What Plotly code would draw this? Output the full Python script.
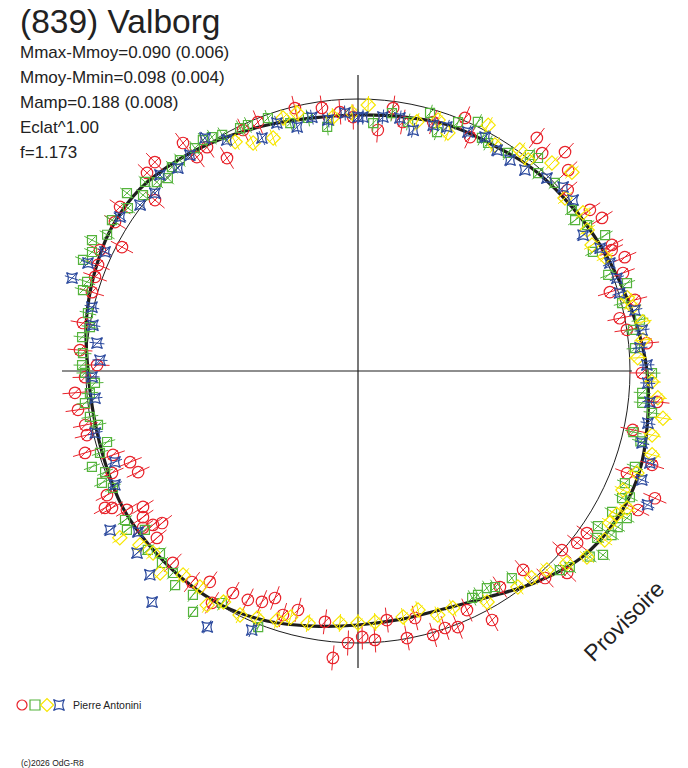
import numpy as np
import plotly.graph_objects as go

# rotation phase (deg) and relative brightness radius of each observation
red_phase = [25.5, 23.1, 20.3, 17.4, 14.4, 11.4, 8.7, 5.5, -0.4, -5.9, -12.1, -17.7, -20.8, -23.2,
             -26.4, -35.3, -38.1, -41.3, -44, -47.9, -50.3, -56.7, -61.7, -65.5, -68.7, -71.3, -74.1,
             -77, -79.6, -83.4, -86.4, -89.1, 267.9, 265, 262.5, 255.9, 252.9, 249.9, 247.4, 244.3,
             240.6, 237.8, 234.9, 231.8, 226, 219.7, 216.1, 217.8, 216.9, 214.2, 211, 212.3, 209.1,
             208.4, 206.3, 202.5, 204.7, 201.8, 198.9, 196.7, 193.3, 191.2, 187.9, 184.4, 181.3,
             178.7, 175.7, 170.1, 163.5, 160.3, 157.8, 154.9, 152.3, 148.5, 145.4, 139.9, 136.8,
             134.2, 127.5, 127, 124, 121.6, 115.5, 111.9, 103.5, 97.8, 94, 91.1, 85.3, 82.4, 79.8,
             73.2, 67.1, 64.4, 52.5, 49.8, 46.6, 43.7, 40.8, 34.8, 32.1, 26.4]
red_r = [281, 290, 282.5, 264, 286, 267, 272, 290, 284, 300.6, 281, 308.7, 287.7, 323,
         312.6, 280.5, 278.5, 271.4, 290.7, 279, 258.5, 258.5, 282.8, 262.7, 274.8, 271.3, 274.4,
         253.5, 271.5, 250.7, 269.5, 266, 272.2, 288, 253, 246.4, 255.3, 241.7, 250, 254,
         254.8, 274, 257.7, 268.5, 266.6, 261.3, 266, 248, 256.4, 260, 269.6, 254.4, 281.6,
         287.7, 280, 266.3, 242, 245.5, 259, 285, 278.5, 278, 282.7, 283.9, 273,
         261, 278.8, 279.2, 277.5, 279.3, 280.8, 285, 266.6, 285, 289, 265.4, 289.4,
         291.4, 287.4, 267.8, 270, 250, 267, 268.3, 270.4, 265.5, 259.6, 254, 241.8, 265.3, 253,
         260, 274.7, 259.4, 293.8, 285.3, 301.3, 290.7, 277, 282.4, 288, 283.5]

green_phase = [26.9, 21, 18.1, 14.4, 10.3, 8.5, 4.7, -0.4, -4.4, -6.4, -8.1, -12.5, -14, -19.1,
               -22.8, -25.7, -24.9, -28.7, -29, -31, -32.9, -32.9, -34.9, -38.7, -36.9, -42.8,
               -44.6, -53.4, -57.6, -59.3, -61.8, -63.3, 248.7, 239.6, 235.6, 233.6, 229.5, 227.5,
               224.4, 222.6, 220.4, 214.5, 216.7, 212.6, 205.5, 203.6, 201.8, 199.8, 197.6, 195.8,
               191.7, 189.7, 186.7, 184.7, 182.6, 180.4, 178.8, 176.3, 173, 170.7, 167.9, 163.6,
               161.8, 158, 155.9, 153.8, 151.5, 148.5, 144.7, 142.4, 140.7, 138.4, 136.8, 134.6,
               132.4, 130.2, 126.2, 123.9, 122, 119.9, 115.9, 114.1, 109.6, 105.3, 101.2, 97.2,
               86.5, 82.5, 78.6, 74.4, 71.7, 68.1, 64.3, 62, 60.3, 55.5, 51.5, 49.8, 47.7, 43.7,
               37, 34.8, 32.5, 28.8]
green_r = [263.4, 268, 283, 272.6, 286.6, 278, 278, 294, 285, 286, 297, 282, 291, 293,
           289.5, 293, 299.8, 306.5, 290.5, 303, 285.7, 302, 291.6, 297, 306.4, 288.7,
           283.5, 258, 255.8, 252.4, 254, 254, 274.8, 269, 292, 278.2, 281.6, 274,
           274.4, 269, 276, 280.4, 265.8, 276.6, 271.5, 279.4, 272.4, 282.8, 270.7, 260.8,
           265.5, 272, 275, 269, 263.3, 273, 276, 275.6, 278, 271.6, 276.2, 286.7,
           285.2, 296.6, 291.4, 296.5, 285.5, 288.6, 281.9, 291.6, 277.8, 284.8, 276, 270.8,
           276, 276, 276.2, 278.2, 275.8, 272.4, 270, 269.5, 268.5, 257, 257.9, 246,
           248.4, 260.2, 254, 267.9, 251.7, 268.3, 276.4, 264, 262.5, 264.6, 276, 278.9, 267.6, 272.3,
           267.8, 264.4, 271.6, 282]

yellow_phase = [24.8, 15.2, 13.1, 9.8, 6.2, 2.7, -2.1, -5.1, -8.8, -12.3, -15.9, -20.1, -24.2,
                -27, -29, -31.1, -34.4, -39.1, -42.6, -46.5, -50, -53.5, -60.8, -68.2, -71.9,
                -75.9, -79.6, -86.1, -90, 265.9, 258.8, 254.7, 252, 247.8, 244.2, 239.8, 237.2,
                233.8, 229.4, 225.6, 221.6, 218.6, 215, 118.2, 114.7, 110, 106.5, 103.3, 95.6,
                91.3, 87.8, 76.7, 72.3, 69.3, 62.1, 58.8, 53.8, 51.1, 47, 42.9, 39.9, 35.1, 31.6, 28.3]
yellow_r = [272, 279, 282, 289, 286.7, 280, 294, 301, 308.6, 301, 305.8, 297, 290.5,
            302, 296, 294, 299, 295, 283.8, 274.4, 270, 268.8, 264.6, 255.3, 256.8,
            246.4, 250, 251.6, 252, 252.6, 257, 255.4, 261.8, 266.9, 271, 267.4, 278.5,
            267.6, 268.8, 282.8, 274, 279, 290.8, 260, 251, 248, 263.9, 265, 255.2,
            258, 266.2, 256, 263.4, 254.5, 278.2, 264.3, 274, 271, 284.4, 292, 269.8, 275, 269, 265.8]

blue_phase = [23.2, 19.7, 16.6, 12.4, 8.2, 4.7, 1.2, -2.4, -6.1, -10.2, -14.2, -17.5, -21, -24.8,
              247.7, 239.5, 228.3, 224.4, 219.5, 216.2, 212.7, 205.1, 200.5, 193.3, 185.9, 181.3,
              177.6, 173.9, 170.2, 166.5, 162, 158.2, 154.8, 147.1, 142.7, 138.8, 135.3, 131.6,
              127.9, 123.3, 119.6, 112.4, 108.1, 104, 100.3, 96.8, 92.9, 90, 88.9, 84.4, 80.6,
              77.1, 73, 70, 65.3, 61.5, 57.8, 54.2, 50.3, 45.6, 41.9, 38.5, 31.1, 26.9]
blue_r = [274, 275, 273, 283.6, 287, 283, 289, 290, 293.6, 294.6, 293, 306, 304, 319,
          280, 297, 309.5, 291.3, 286.3, 272.6, 294.6, 268.4, 259.5, 270, 264.4, 266,
          258.2, 262.5, 269, 273.6, 300.7, 290.8, 279.6, 283.5, 274, 270, 278.6, 271.3,
          273.6, 278.7, 265.6, 252, 260.9, 251.5, 258, 252.8, 258.3, 254, 254, 255.2, 256.5,
          247, 257, 259.7, 263, 266.2, 261, 260, 261.3, 270, 275.5, 274.7, 262.9, 271.5]

# fitted light curve
fit_phase = [0, 10, 20, 30, 40, 50, 60, 70, 80, 90, 100, 110, 120, 130, 140, 150, 160, 170, 180,
             190, 200, 210, 220, 230, 240, 250, 260, 270, 280, 290, 300, 310, 320, 330, 340, 350, 360]
fit_r = [289, 282, 276, 272, 269, 267, 263, 262, 258, 256, 257, 262, 269, 277, 284, 285, 281, 276, 270,
         268, 269, 272, 272, 272, 271, 266, 259, 254, 252, 253, 261, 276, 291, 298, 299, 294, 289]

ref_r = 272  # mean level circle

stats_lines = ["Mmax-Mmoy=0.090 (0.006)", "Mmoy-Mmin=0.098 (0.004)", "Mamp=0.188 (0.008)",
               "Eclat^1.00", "f=1.173"]

series = [
    ("red", red_phase, red_r, "circle-open", 11.5, "#e8232b", 12.5),
    ("green", green_phase, green_r, "square-open", 9, "#55b43c", 8.5),
    ("yellow", yellow_phase, yellow_r, "diamond-open", 11, "#f7e600", 9),
    ("blue", blue_phase, blue_r, "star-square-open", 10, "#2c4a9e", 7.5),
]


def to_xy(ph, r):
    a = np.radians(np.asarray(ph, dtype=float))
    r = np.asarray(r, dtype=float)
    return r * np.cos(a), r * np.sin(a)


fig = go.Figure()

# fitted curve
fx, fy = to_xy(fit_phase, fit_r)
fig.add_trace(go.Scatter(x=fx, y=fy, mode="lines", line=dict(color="#1e1e1e", width=3.2, shape="spline"),
                         hoverinfo="skip"))

for name, ph, r, sym, size, col, err in series:
    x, y = to_xy(ph, r)
    x0, y0 = to_xy(ph, np.asarray(r) - err)
    x1, y1 = to_xy(ph, np.asarray(r) + err)
    ex, ey = [], []
    for i in range(len(x)):
        ex += [x0[i], x1[i], None]
        ey += [y0[i], y1[i], None]
    fig.add_trace(go.Scatter(x=ex, y=ey, mode="lines", line=dict(color=col, width=1), hoverinfo="skip"))
    fig.add_trace(go.Scatter(x=x, y=y, mode="markers", name=name,
                             marker=dict(symbol=sym, size=size, color=col, line=dict(color=col, width=1.2))))
    fig.add_trace(go.Scatter(x=x, y=y, mode="markers", hoverinfo="skip",
                             marker=dict(symbol="line-ne-open", size=size - 2, color=col,
                                         line=dict(color=col, width=1))))

# legend swatches in page pixels
for (name, ph, r, sym, size, col, err), lx in zip(series, [22, 35, 47, 59]):
    fig.add_trace(go.Scatter(x=[lx], y=[705], xaxis="x2", yaxis="y2", mode="markers",
                             marker=dict(symbol=sym, size=10, color=col, line=dict(color=col, width=1.2)),
                             hoverinfo="skip"))

shapes = [
    dict(type="circle", xref="x", yref="y", x0=-ref_r, x1=ref_r, y0=-ref_r, y1=ref_r,
         line=dict(color="#1e1e1e", width=1), layer="below"),
    dict(type="line", xref="x", yref="y", x0=-296, x1=274, y0=0, y1=0,
         line=dict(color="#1e1e1e", width=1.2), layer="below"),
    dict(type="line", xref="x", yref="y", x0=0, x1=0, y0=-297, y1=296,
         line=dict(color="#1e1e1e", width=1.2), layer="below"),
]

W, H = 688, 768
font = "Liberation Sans, Arial, sans-serif"
ann = [dict(text="(839) Valborg", x=18 / W, y=1 - 1 / H, xref="paper", yref="paper",
            xanchor="left", yanchor="top", showarrow=False, font=dict(size=33.5, color="#222", family=font))]
for i, s in enumerate(stats_lines):
    ann.append(dict(text=s, x=18 / W, y=1 - (41 + 25 * i) / H, xref="paper", yref="paper",
                    xanchor="left", yanchor="top", showarrow=False,
                    font=dict(size=17, color="#222", family=font)))
ann.append(dict(text="Provisoire", x=624 / W, y=1 - 621 / H, xref="paper", yref="paper",
                xanchor="center", yanchor="middle",
                textangle=-45, showarrow=False, font=dict(size=23, color="#222", family=font)))
ann.append(dict(text="Pierre Antonini", x=71 / W, y=1 - 705 / H, xref="paper", yref="paper",
                xanchor="left", yanchor="middle", showarrow=False,
                font=dict(size=10.5, color="#222", family=font)))
ann.append(dict(text="(c)2026 OdG-R8", x=19 / W, y=1 - 763 / H, xref="paper", yref="paper",
                xanchor="left", yanchor="middle", showarrow=False,
                font=dict(size=8.5, color="#222", family=font)))

fig.update_layout(
    width=W, height=H, margin=dict(l=0, r=0, t=0, b=0),
    paper_bgcolor="white", plot_bgcolor="white", showlegend=False,
    xaxis=dict(range=[-358, 330], visible=False, domain=[0, 1]),
    yaxis=dict(range=[-397, 371], visible=False, domain=[0, 1]),
    xaxis2=dict(range=[0, W], visible=False, overlaying="x", anchor="y2"),
    yaxis2=dict(range=[H, 0], visible=False, overlaying="y", anchor="x2"),
    shapes=shapes, annotations=ann,
)

# page body margin would push the figure off by 8px
fig.write_html("out.html", config={"displayModeBar": False},
               post_script="document.body.style.margin='0px';")
